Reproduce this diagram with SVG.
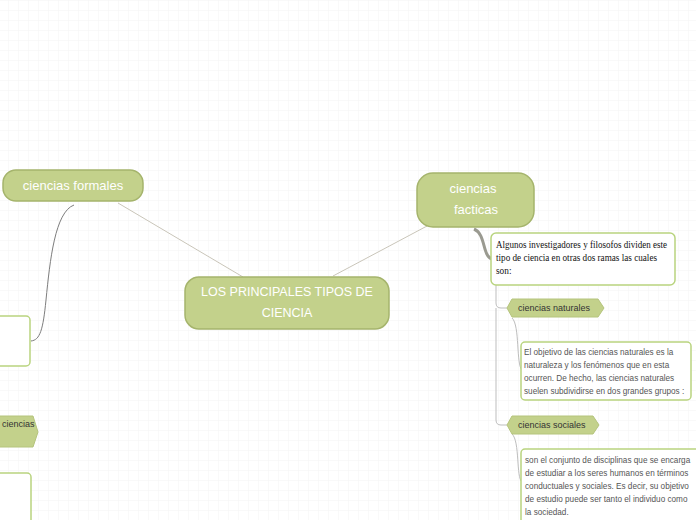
<svg xmlns="http://www.w3.org/2000/svg" width="696" height="520" viewBox="0 0 696 520">
<defs>
<pattern id="grid" x="8" y="0" width="10" height="10" patternUnits="userSpaceOnUse">
<path d="M0 0V10M0 0H10" fill="none" stroke="#f4f4f4" stroke-width="1"/>
</pattern>
</defs>
<style>
.node{fill:#c3d18b;stroke:#a5b46c;stroke-width:1.5}
.hex{fill:#c3d18b;stroke:#b5c47c;stroke-width:1}
.box{fill:#fff;stroke:#b9d47f;stroke-width:1.5}
.t1{font-family:"Liberation Sans",Arial,sans-serif;fill:#fff;text-anchor:middle}
.t2{font-family:"Liberation Sans",Arial,sans-serif;fill:#333;font-size:9px}
.t3{font-family:"Liberation Sans",Arial,sans-serif;fill:#555;font-size:8.2px}
.t4{font-family:"Liberation Serif","Times New Roman",serif;fill:#111;font-size:9.3px}
.ln{fill:none;stroke:#c9c5b9;stroke-width:1}
.cv{fill:none;stroke:#bdbdbd;stroke-width:1}
</style>
<rect width="696" height="520" fill="#fff"/>
<rect width="696" height="520" fill="url(#grid)"/>
<g id="connectors">
<path class="ln" d="M243 277L118 203"/>
<path class="ln" d="M333 276L427 226"/>
<path d="M74 205C55 212 50 260 46 300C43 330 40 340 31 341" fill="none" stroke="#7d7d7d" stroke-width="1"/>
<path d="M474 229C486 234 482 256 492 259" fill="none" stroke="#9a9a90" stroke-width="3"/>
<path class="cv" d="M496 285V303Q496 308 501 308H507"/>
<path class="cv" d="M496 308V420Q496 425 501 425H507"/>
<path class="cv" d="M512 318C520 325 516 365 522 370"/>
<path class="cv" d="M512 434C520 441 516 478 522 482"/>
</g>
<g id="central">
<rect class="node" x="185" y="277" width="204" height="52" rx="14"/>
<text class="t1" x="287" y="296" font-size="12.5">LOS PRINCIPALES TIPOS DE</text>
<text class="t1" x="287" y="317" font-size="12.5">CIENCIA</text>
</g>
<g id="formales">
<rect class="node" x="3" y="170" width="140" height="31" rx="13"/>
<text class="t1" x="73" y="190" font-size="13">ciencias formales</text>
</g>
<g id="facticas">
<rect class="node" x="417" y="173" width="117" height="54" rx="16"/>
<text class="t1" x="473" y="193" font-size="13">ciencias</text>
<text class="t1" x="476" y="214" font-size="13">facticas</text>
</g>
<g id="left-box1">
<rect class="box" x="-10" y="316" width="40" height="50" rx="4"/>
</g>
<g id="left-hex">
<polygon class="hex" points="-5,416 33,416 38,432 33,447 -5,447"/>
<text class="t2" x="2" y="427" font-size="7">ciencias</text>
</g>
<g id="left-box2">
<rect class="box" x="-10" y="473" width="41" height="60" rx="4"/>
</g>
<g id="intro">
<rect class="box" x="491" y="233" width="184" height="52" rx="5"/>
<text class="t4" x="496" y="248" textLength="171" lengthAdjust="spacingAndGlyphs">Algunos investigadores y filosofos dividen este</text>
<text class="t4" x="496" y="261" textLength="161" lengthAdjust="spacingAndGlyphs">tipo de ciencia en otras dos ramas las cuales</text>
<text class="t4" x="496" y="274">son:</text>
</g>
<g id="naturales">
<polygon class="hex" points="507,308 512,299 598,299 604,308 598,317 512,317"/>
<text class="t2" x="518" y="311">ciencias naturales</text>
</g>
<g id="naturales-text">
<rect class="box" x="521" y="342" width="170" height="58" rx="4"/>
<text class="t3" x="524" y="355">El objetivo de las ciencias naturales es la</text>
<text class="t3" x="524" y="368">naturaleza y los fenómenos que en esta</text>
<text class="t3" x="524" y="381">ocurren. De hecho, las ciencias naturales</text>
<text class="t3" x="524" y="394">suelen subdividirse en dos grandes grupos :</text>
</g>
<g id="sociales">
<polygon class="hex" points="507,425 512,416 593,416 599,425 593,434 512,434"/>
<text class="t2" x="518" y="428">ciencias sociales</text>
</g>
<g id="sociales-text">
<rect class="box" x="521" y="449" width="190" height="80" rx="4"/>
<text class="t3" x="525" y="463">son el conjunto de disciplinas que se encarga</text>
<text class="t3" x="525" y="476">de estudiar a los seres humanos en términos</text>
<text class="t3" x="525" y="489">conductuales y sociales. Es decir, su objetivo</text>
<text class="t3" x="525" y="502">de estudio puede ser tanto el individuo como</text>
<text class="t3" x="525" y="515">la sociedad.</text>
</g>
</svg>
